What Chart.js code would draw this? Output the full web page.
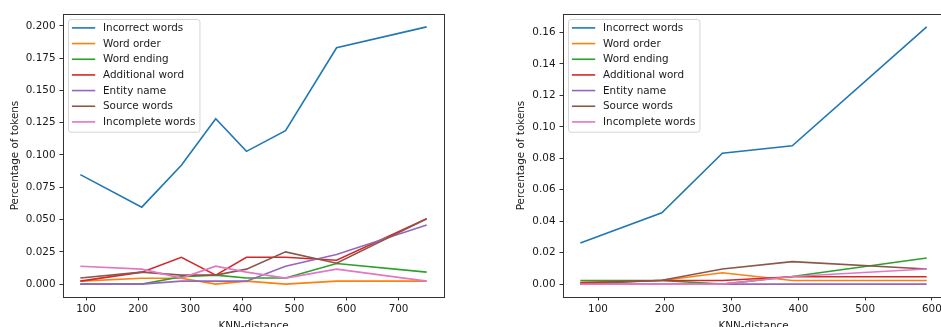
<!DOCTYPE html>
<html>
<head>
<meta charset="utf-8">
<script src="https://cdn.jsdelivr.net/npm/chart.js@4"></script>
<style>
  html, body { margin: 0; padding: 0; background: #fff; overflow: hidden; }
  body { width: 941px; height: 327px; position: relative; }
  canvas { position: absolute; top: 0; }
  #knnLeft { left: 0; }
  #knnRight { left: 500px; }
</style>
</head>
<body>
<canvas id="knnLeft" width="460" height="340"></canvas>
<canvas id="knnRight" width="460" height="340"></canvas>
<script>
const seriesNames = ['Incorrect words', 'Word order', 'Word ending', 'Additional word', 'Entity name', 'Source words', 'Incomplete words'];

// left panel
const leftDistance = [89, 207, 283, 349, 408, 483, 581, 754];
const leftIncorrect = [0.0848, 0.0596, 0.0920, 0.1280, 0.1028, 0.1188, 0.1830, 0.1992];
const leftOrder = [0.0023, 0.0046, 0.0046, 0.0, 0.0023, 0.0, 0.0023, 0.0023];
const leftEnding = [0.0, 0.0, 0.0057, 0.0070, 0.0047, 0.0047, 0.0160, 0.0093];
const leftAdditional = [0.0023, 0.0093, 0.0208, 0.0070, 0.0208, 0.0208, 0.0185, 0.0506];
const leftEntity = [0.0, 0.0, 0.0023, 0.0023, 0.0023, 0.0139, 0.0229, 0.0458];
const leftSource = [0.0047, 0.0093, 0.0070, 0.0070, 0.0116, 0.0250, 0.0162, 0.0506];
const leftIncomplete = [0.0139, 0.0116, 0.0047, 0.0139, 0.0093, 0.0047, 0.0116, 0.0023];
const leftXTicks = [100, 200, 300, 400, 500, 600, 700];
const leftYTicks = [0, 0.025, 0.05, 0.075, 0.1, 0.125, 0.15, 0.175, 0.2];

// right panel
const rightDistance = [73.5, 195.6, 286.2, 390.9, 592.2];
const rightIncorrect = [0.0262, 0.0454, 0.0832, 0.0880, 0.1636];
const rightOrder = [0.0012, 0.0023, 0.0072, 0.0023, 0.0023];
const rightEnding = [0.0023, 0.0023, 0.0, 0.0049, 0.0166];
const rightAdditional = [0.0008, 0.0023, 0.0023, 0.0047, 0.0047];
const rightEntity = [0.0, 0.0, 0.0, 0.0, 0.0];
const rightSource = [0.0, 0.0025, 0.0096, 0.0143, 0.0096];
const rightIncomplete = [0.0, 0.0, 0.0, 0.0049, 0.0096];
const rightXTicks = [100, 200, 300, 400, 500, 600];
const rightYTicks = [0, 0.02, 0.04, 0.06, 0.08, 0.1, 0.12, 0.14, 0.16];

const colors = ['#1f77b4', '#ff7f0e', '#2ca02c', '#d62728', '#9467bd', '#8c564b', '#e377c2'];
const FONT = '"DejaVu Sans", sans-serif';
const FSIZE = 10.4;
const INK = '#1a1a1a';

// spines on all four sides plus a matplotlib-like legend box
const frameLegend = {
  id: 'frameLegend',
  afterDatasetsDraw(chart) {
    const {ctx, chartArea: a} = chart;
    ctx.save();
    ctx.strokeStyle = '#333';
    ctx.lineWidth = 1;
    ctx.strokeRect(Math.round(a.left) + 0.5, Math.round(a.top) + 0.5,
      Math.round(a.right - a.left), Math.round(a.bottom - a.top));

    ctx.font = FSIZE + 'px ' + FONT;
    const sets = chart.data.datasets;
    const textW = Math.max(...sets.map(d => ctx.measureText(d.label).width));
    const x0 = a.left + 5.5, y0 = a.top + 5.5;
    const rowH = 15.67;
    const w = 34.5 + textW + 4.5;
    const h = 8.4 + rowH * (sets.length - 1) + 10.3;
    ctx.beginPath();
    ctx.roundRect(x0, y0, w, h, 2.5);
    ctx.fillStyle = 'rgba(255,255,255,0.8)';
    ctx.fill();
    ctx.strokeStyle = '#d4d4d4';
    ctx.stroke();

    ctx.textBaseline = 'middle';
    ctx.textAlign = 'left';
    sets.forEach((d, i) => {
      const y = y0 + 8.4 + rowH * i;
      ctx.beginPath();
      ctx.moveTo(x0 + 3.4, y);
      ctx.lineTo(x0 + 26.7, y);
      ctx.strokeStyle = d.borderColor;
      ctx.lineWidth = 1.6;
      ctx.stroke();
      ctx.fillStyle = INK;
      ctx.fillText(d.label, x0 + 34.5, y + 0.5);
    });
    ctx.restore();
  }
};

function makeChart(id, dist, series, xTicks, yTicks, digits, yTitlePad) {
  const xs = [Math.min(...dist), Math.max(...dist)];
  const allY = series.flat();
  const ys = [Math.min(...allY), Math.max(...allY)];
  const xm = (xs[1] - xs[0]) * 0.05, ym = (ys[1] - ys[0]) * 0.05;

  const datasets = seriesNames.map((name, i) => ({
    label: name,
    data: dist.map((x, j) => ({x: x, y: series[i][j]})),
    borderColor: colors[i],
    backgroundColor: colors[i],
    borderWidth: 1.6,
    pointRadius: 0,
    tension: 0,
    fill: false,
    order: seriesNames.length - i
  }));

  return new Chart(document.getElementById(id), {
    type: 'line',
    data: {datasets: datasets},
    plugins: [frameLegend],
    options: {
      responsive: false,
      animation: false,
      devicePixelRatio: 1,
      layout: {padding: {left: 0, top: 14, right: 16, bottom: 0}},
      plugins: {legend: {display: false}, tooltip: {enabled: false}},
      scales: {
        x: {
          type: 'linear',
          min: xs[0] - xm,
          max: xs[1] + xm,
          afterBuildTicks: s => { s.ticks = xTicks.map(v => ({value: v})); },
          afterFit: s => { s.height = 43; },
          grid: {drawOnChartArea: false, tickLength: 3.5, tickColor: '#333', tickWidth: 1},
          border: {display: true, color: '#333'},
          ticks: {color: INK, padding: 3, font: {family: FONT, size: FSIZE}, maxRotation: 0,
            callback: v => String(v)},
          title: {display: true, text: 'KNN-distance', color: INK,
            font: {family: FONT, size: FSIZE}, padding: {top: 0, bottom: 7.8}}
        },
        y: {
          type: 'linear',
          min: ys[0] - ym,
          max: ys[1] + ym,
          afterBuildTicks: s => { s.ticks = yTicks.map(v => ({value: v})); },
          afterFit: s => { s.width = 63; },
          grid: {drawOnChartArea: false, tickLength: 3.5, tickColor: '#333', tickWidth: 1},
          border: {display: true, color: '#333'},
          ticks: {color: INK, padding: 4, font: {family: FONT, size: FSIZE},
            callback: v => Number(v).toFixed(digits)},
          title: {display: true, text: 'Percentage of tokens', color: INK,
            font: {family: FONT, size: FSIZE}, padding: {top: yTitlePad, bottom: 0}}
        }
      }
    }
  });
}

makeChart('knnLeft', leftDistance,
  [leftIncorrect, leftOrder, leftEnding, leftAdditional, leftEntity, leftSource, leftIncomplete],
  leftXTicks, leftYTicks, 3, 8.8);

makeChart('knnRight', rightDistance,
  [rightIncorrect, rightOrder, rightEnding, rightAdditional, rightEntity, rightSource, rightIncomplete],
  rightXTicks, rightYTicks, 2, 15.5);
</script>
</body>
</html>
